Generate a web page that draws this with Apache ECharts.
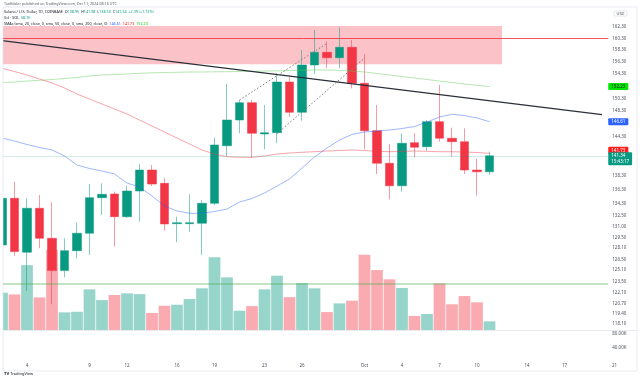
<!DOCTYPE html>
<html>
<head>
<meta charset="utf-8">
<script src="https://cdn.jsdelivr.net/npm/echarts@6/dist/echarts.min.js"></script>
<style>
  html, body { margin: 0; padding: 0; background: #fff; }
  #chart { width: 640px; height: 377px; }
</style>
</head>
<body>
<div id="chart"></div>
<script>
// axis days, Sep 1 .. Oct 21 (2024)
const axisDays = [];
for (let i = 0; i < 51; i++) {
  const d = new Date(Date.UTC(2024, 8, 1 + i));
  axisDays.push(String(d.getUTCMonth() + 1).padStart(2, "0") + "-" + String(d.getUTCDate()).padStart(2, "0"));
}
const days = axisDays.slice(1, 41); // Sep 2 .. Oct 11

const opens = [128.48, 135.06, 127.48, 133.63, 129.40, 125.00, 127.70, 130.10, 135.15, 135.68,
  132.43, 136.12, 139.21, 137.24, 131.44, 131.44, 131.50, 134.34, 142.89, 146.87,
  149.62, 144.69, 144.89, 152.97, 148.09, 155.78, 157.91, 157.00, 158.76, 152.76,
  145.20, 140.22, 136.89, 143.35, 142.74, 146.61, 144.03, 143.50, 139.21, 138.95];
const closes = [135.06, 127.57, 133.63, 129.40, 125.00, 127.70, 130.10, 135.15, 135.64, 132.43,
  136.12, 139.21, 137.14, 131.40, 131.58, 131.58, 134.34, 143.00, 146.87, 149.62,
  144.80, 144.89, 152.97, 148.09, 155.78, 157.91, 157.00, 158.76, 152.76, 145.20,
  140.22, 136.89, 143.26, 142.65, 146.61, 144.03, 143.50, 139.21, 138.95, 141.34];
const lows = [128.20, 126.98, 122.31, 128.03, 120.58, 124.12, 126.67, 127.12, 132.67, 128.25,
  132.25, 131.72, 136.85, 130.46, 128.85, 130.32, 127.12, 134.09, 141.32, 144.80,
  141.12, 142.34, 143.26, 147.39, 146.76, 154.29, 155.23, 155.23, 151.94, 142.34,
  138.62, 134.92, 136.02, 141.12, 142.13, 143.50, 141.21, 138.62, 135.44, 138.50];
const highs = [135.30, 137.48, 135.06, 135.54, 134.49, 129.40, 131.64, 137.14, 137.24, 136.02,
  136.89, 140.11, 139.96, 138.03, 132.43, 135.64, 134.82, 144.18, 152.64, 150.05,
  150.05, 149.25, 154.40, 153.85, 158.30, 161.73, 159.72, 162.20, 160.00, 157.57,
  149.25, 143.15, 144.80, 144.80, 146.87, 152.48, 145.67, 145.57, 140.86, 141.98];
const volumes = [249, 238, 434, 218, 534, 118, 122, 272, 200, 234,
  245, 240, 114, 162, 169, 207, 279, 486, 352, 129,
  160, 272, 363, 220, 314, 279, 120, 178, 196, 503,
  401, 339, 281, 94, 107, 312, 172, 227, 185, 58.1];

const sma20 = [144.07, 143.60, 143.07, 142.61, 142.23, 141.32, 139.96, 139.44, 139.07, 138.62,
  137.29, 136.70, 135.39, 133.95, 133.24, 132.91, 132.91, 133.17, 133.52, 134.53,
  135.03, 135.83, 136.85, 137.88, 139.51, 141.17, 142.53, 143.76, 144.61, 145.00,
  145.15, 145.31, 145.54, 145.85, 146.56, 147.34, 147.77, 147.58, 147.18, 146.61];
const sma50 = [155.23, 154.70, 154.12, 153.46, 152.81, 151.99, 151.02, 150.21, 149.41, 148.61,
  147.82, 146.87, 145.93, 145.00, 144.07, 143.15, 142.23, 141.62, 141.21, 141.12,
  141.12, 141.32, 141.62, 141.77, 141.88, 141.97, 142.08, 142.15, 142.23, 142.15,
  142.03, 141.97, 142.00, 142.08, 142.03, 141.97, 141.97, 141.92, 141.85, 141.73];
const sma200 = [152.89, 152.97, 153.13, 153.25, 153.38, 153.54, 153.71, 153.96, 154.12, 154.20,
  154.29, 154.40, 154.48, 154.53, 154.57, 154.62, 154.62, 154.65, 154.67, 154.70,
  154.73, 154.78, 154.81, 154.86, 154.91, 154.95, 154.95, 154.89, 154.78, 154.62,
  154.37, 154.12, 153.87, 153.63, 153.38, 153.13, 152.89, 152.64, 152.43, 152.23];

// drawings
const zoneDays = ["09-01", "10-12"];
const zonePrices = [162.42, 155.90];
const resistanceLevel = 160.3;
const supportLevel = 123.3;
const trendLine = [["09-01", 160.16], ["10-20", 147.72]];
const channelUpper = [["09-21", 150.05], ["09-28", 159.44]];
const channelLower = [["09-24", 144.75], ["10-01", 156.95]];

// axis ticks
const priceTicks = [162.3, 160.3, 158.3, 156.3, 154.3, 152.3, 150.3, 148.3, 146.3, 144.3, 142.3,
  140.3, 138.3, 136.3, 134.3, 132.5, 131.0, 129.5, 128.1, 126.5, 125.1, 123.5, 122.1, 120.7, 119.4, 118.1];
const volumeTicks = [40, 80];
const dateTickDays = ["09-04", "09-09", "09-12", "09-16", "09-19", "09-23", "09-26",
  "10-01", "10-04", "10-07", "10-10", "10-14", "10-17", "10-21"];
const dateTickText = ["4", "9", "12", "16", "19", "23", "26", "Oct", "4", "7", "10", "14", "17", "21"];

const UP = "#089981";
const DOWN = "#f23645";
const FONT = "Noto Sans";
const last = days.length - 1;

const candles = days.map((d, i) => [d, opens[i], closes[i], lows[i], highs[i]]);
const volumeData = days.map((d, i) => ({
  value: [d, volumes[i]],
  itemStyle: {color: closes[i] >= opens[i] ? "rgba(8,153,129,0.42)" : "rgba(242,54,69,0.42)"},
}));

function badge(bg, fg, offsetY) {
  return {
    show: true,
    position: "end",
    distance: 0,
    formatter: p => Number(p.value).toFixed(2),
    backgroundColor: bg,
    color: fg,
    fontFamily: FONT,
    fontSize: 4.5,
    padding: [1, 3],
    borderRadius: 1,
    offset: [0, offsetY || 0],
  };
}

function smaSeries(name, values, lineColor, badgeBg, badgeFg, offsetY) {
  return {
    name: name,
    type: "line",
    xAxisIndex: 0,
    yAxisIndex: 0,
    data: days.map((d, i) => [d, values[i]]),
    showSymbol: false,
    silent: true,
    lineStyle: {color: lineColor, width: 1},
    markLine: {
      silent: true,
      symbol: ["none", "none"],
      lineStyle: {color: "rgba(0,0,0,0)", width: 0.1, type: "solid"},
      label: badge(badgeBg, badgeFg, offsetY),
      data: [{yAxis: values[last]}],
    },
  };
}

const small = {fontFamily: FONT, fontSize: 3.7, color: "#555a66", fontWeight: "normal"};

const option = {
  animation: false,
  backgroundColor: "#fff",
  title: [
    {text: "TonEdzler published on TradingView.com, Oct 11, 2024 08:16 UTC", left: 4, top: 2, padding: 0, textStyle: small},
    {
      text: "Solana / U.S. Dollar, 1D, COINBASE  O{v|" + opens[last].toFixed(2) + "}  H{v|" + highs[last].toFixed(2) +
        "}  L{v|" + lows[last].toFixed(2) + "}  C{v|" + closes[last].toFixed(2) + "}  {v|+2.39 (+1.72%)}",
      left: 4, top: 10.3, padding: 0,
      textStyle: Object.assign({}, small, {color: "#131722", rich: {v: {fontFamily: FONT, fontSize: 3.7, color: UP}}}),
    },
    {
      text: "Vol · SOL  {v|" + volumes[last] + "K}", left: 4, top: 15.5, padding: 0,
      textStyle: Object.assign({}, small, {color: "#131722", rich: {v: {fontFamily: FONT, fontSize: 3.7, color: UP}}}),
    },
    {
      text: "SMAs (sma, 20, close, 0, sma, 50, close, 0, sma, 200, close, 0)  {b|" + sma20[last].toFixed(2) +
        "}  {r|" + sma50[last].toFixed(2) + "}  {g|" + sma200[last].toFixed(2) + "}",
      left: 4, top: 22, padding: 0,
      textStyle: Object.assign({}, small, {
        color: "#131722",
        rich: {
          b: {fontFamily: FONT, fontSize: 3.7, color: "#2962ff"},
          r: {fontFamily: FONT, fontSize: 3.7, color: "#ff0000"},
          g: {fontFamily: FONT, fontSize: 3.7, color: "#00c800"},
        },
      }),
    },
    {
      text: "USD", left: 614, top: 10.5, padding: [1, 2.5],
      borderColor: "#d1d4dc", borderWidth: 0.6, borderRadius: 1.5,
      textStyle: {fontFamily: FONT, fontSize: 4, color: "#4c525e", fontWeight: "normal"},
    },
    {
      text: "{t|TV} TradingView", left: 4, top: 371.5, padding: 0,
      textStyle: {fontFamily: FONT, fontSize: 4, color: "#131722", fontWeight: "normal",
        rich: {t: {fontFamily: FONT, fontSize: 4.2, fontWeight: "bold", color: "#131722"}}},
    },
  ],
  grid: [
    {left: -16.75, top: 20, width: 625, height: 310, outerBoundsMode: "none", containLabel: false},
    {left: -16.75, top: 250, width: 625, height: 80, outerBoundsMode: "none", containLabel: false},
    {left: -16.75, top: 330, width: 637.5, height: 32, outerBoundsMode: "none", containLabel: false},
  ],
  xAxis: [
    {type: "category", gridIndex: 0, data: axisDays.slice(0, 50), boundaryGap: true, show: false},
    {type: "category", gridIndex: 1, data: axisDays.slice(0, 50), boundaryGap: true, show: false},
    {
      type: "category", gridIndex: 2, data: axisDays, boundaryGap: true,
      axisLine: {show: false}, axisTick: {show: false},
      axisLabel: {
        interval: (i, v) => dateTickDays.indexOf(v) >= 0,
        formatter: v => dateTickText[dateTickDays.indexOf(v)],
        fontFamily: FONT, fontSize: 4.5, color: "#4c525e", margin: 1,
      },
    },
  ],
  yAxis: [
    {
      type: "log", logBase: 10, gridIndex: 0, position: "right",
      min: 117.30, max: 163.47,
      splitLine: {show: false}, axisLine: {show: false}, axisTick: {show: false},
      axisLabel: {
        customValues: priceTicks,
        formatter: v => Number(v).toFixed(2),
        fontFamily: FONT, fontSize: 4.5, color: "#4c525e", margin: 4,
      },
    },
    {type: "value", gridIndex: 1, min: 0, max: 535, show: false},
    {
      type: "value", gridIndex: 2, position: "right", offset: -12.5, min: 0, max: 91.43,
      splitLine: {show: false}, axisLine: {show: false}, axisTick: {show: false},
      axisLabel: {
        customValues: volumeTicks,
        formatter: v => Number(v).toFixed(2) + "K",
        fontFamily: FONT, fontSize: 4.5, color: "#4c525e", margin: 4,
      },
    },
  ],
  series: [
    {
      name: "Volume",
      type: "bar",
      xAxisIndex: 1,
      yAxisIndex: 1,
      data: volumeData,
      barCategoryGap: "6%",
      silent: true,
    },
    smaSeries("SMA 200", sma200, "rgba(90,205,80,0.45)", "#00e600", "#131722"),
    smaSeries("SMA 50", sma50, "rgba(242,54,69,0.45)", "#ff1c1c", "#fff", -3),
    smaSeries("SMA 20", sma20, "rgba(41,98,255,0.45)", "#2962ff", "#fff"),
    {
      name: "SOLUSD",
      type: "candlestick",
      xAxisIndex: 0,
      yAxisIndex: 0,
      data: candles,
      encode: {x: 0, y: [1, 2, 3, 4]},
      barWidth: 9,
      silent: true,
      itemStyle: {
        color: UP,
        color0: DOWN,
        borderColor: "rgba(8,153,129,0.5)",
        borderColor0: "rgba(242,54,69,0.5)",
        borderWidth: 1,
      },
      markArea: {
        silent: true,
        itemStyle: {color: "rgba(242,54,69,0.3)"},
        data: [[{coord: [zoneDays[0], zonePrices[0]]}, {coord: [zoneDays[1], zonePrices[1]]}]],
      },
      markLine: {
        silent: true,
        symbol: ["none", "none"],
        label: {show: false},
        data: [
          {yAxis: resistanceLevel, lineStyle: {color: "#f23645", width: 1, type: "solid", opacity: 0.85}},
          {yAxis: supportLevel, lineStyle: {color: "rgba(76,175,80,0.35)", width: 2, type: "solid"}},
          {
            yAxis: closes[last],
            lineStyle: {color: "rgba(8,153,129,0.18)", width: 1, type: "solid"},
            label: {
              show: true, position: "end", distance: 0,
              formatter: closes[last].toFixed(2) + "\n15:43:17",
              backgroundColor: UP, color: "#fff", fontFamily: FONT, fontSize: 4.5, lineHeight: 5.5,
              padding: [1, 3], borderRadius: 1, offset: [0, 3],
            },
          },
          [{coord: trendLine[0], lineStyle: {color: "#2a2e39", width: 1.2, type: "solid"}}, {coord: trendLine[1]}],
          [{coord: channelUpper[0], lineStyle: {color: "#787b86", width: 1, type: [1.5, 2]}}, {coord: channelUpper[1]}],
          [{coord: channelLower[0], lineStyle: {color: "#787b86", width: 1, type: [1.5, 2]}}, {coord: channelLower[1]}],
        ],
      },
    },
  ],
  graphic: [
    {type: "rect", shape: {x: 0, y: 0, width: 3, height: 377}, style: {fill: "#fff"}, z: 100, silent: true},
    {type: "rect", shape: {x: 637, y: 0, width: 3, height: 377}, style: {fill: "#fff"}, z: 100, silent: true},
    {type: "rect", shape: {x: 3, y: 7, width: 634, height: 364}, style: {fill: "none", stroke: "#e0e3eb", lineWidth: 0.7}, z: 101, silent: true},
    {type: "line", shape: {x1: 3, y1: 330.5, x2: 637, y2: 330.5}, style: {stroke: "#e0e3eb", lineWidth: 0.7}, z: 101, silent: true},
  ],
};

const chart = echarts.init(document.getElementById("chart"));
chart.setOption(option);
</script>
</body>
</html>
